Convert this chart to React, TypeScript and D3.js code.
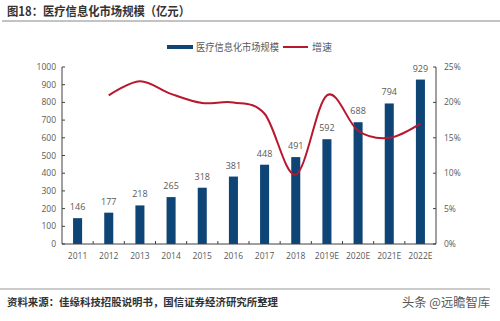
import React from "react";
import * as d3 from "d3";

const categories = ["2011","2012","2013","2014","2015","2016","2017","2018","2019E","2020E","2021E","2022E"];
const marketSize = [146,177,218,265,318,381,448,491,592,688,794,929];
const growth = [null,21.0,23.0,21.2,19.9,20.0,18.4,9.8,21.0,16.0,15.0,17.0];
const leftTicks = [0,100,200,300,400,500,600,700,800,900,1000];
const rightTicks = [0,5,10,15,20,25];

const W = 500, H = 321;
const L = 62, R = 436, T = 67, B = 244;

export default function App() {
  const x = d3.scaleBand().domain(categories).range([L, R]).paddingInner(0.71).paddingOuter(0.355);
  const band = (R - L) / categories.length;
  const yL = d3.scaleLinear().domain([0, 1000]).range([B, T]);
  const yR = d3.scaleLinear().domain([0, 25]).range([B, T]);
  const pts = categories.map((c, i) => ({ c, g: growth[i] })).filter(d => d.g !== null) as {c:string; g:number}[];
  const line = d3.line<{c:string; g:number}>()
    .x(d => (x(d.c) as number) + x.bandwidth() / 2)
    .y(d => yR(d.g))
    .curve(d3.curveCardinal.tension(0));
  const axisColor = "#404040";
  const textColor = "#595959";
  const font = "'Open Sans', 'Noto Sans CJK SC', sans-serif";
  const cjk = "'Noto Sans CJK SC', sans-serif";
  return (
    <svg width={W} height={H} style={{ position: "absolute", left: 0, top: 0, background: "#fff" }} fontFamily={font}>
      <text x={7} y={16} fontSize={12.5} fontWeight="bold" fill="#333" fontFamily={cjk} textLength={183} lengthAdjust="spacingAndGlyphs">图18：医疗信息化市场规模（亿元）</text>
      <line x1={2} x2={500} y1={21} y2={21} stroke="#888" strokeWidth={1.2} />
      {/* legend */}
      <rect x={167} y={45} width={26} height={4} fill="#0f4576" />
      <text x={196} y={51} fontSize={10} fill={textColor} fontFamily={cjk} textLength={83} lengthAdjust="spacingAndGlyphs">医疗信息化市场规模</text>
      <line x1={283} x2={308} y1={47} y2={47} stroke="#b7182e" strokeWidth={2} />
      <text x={312} y={51} fontSize={10} fill={textColor} fontFamily={cjk}>增速</text>
      {/* bars */}
      {categories.map((c, i) => (
        <g key={c}>
          <rect x={x(c)} y={yL(marketSize[i])} width={x.bandwidth()} height={B - yL(marketSize[i])} fill="#0f4576" />
          <text x={(x(c) as number) + x.bandwidth() / 2} y={yL(marketSize[i]) - 8} fontSize={9} fill={textColor} textAnchor="middle">{marketSize[i]}</text>
          <text x={(x(c) as number) + x.bandwidth() / 2} y={259} fontSize={8.5} fill={textColor} textAnchor="middle">{c}</text>
        </g>
      ))}
      <path d={line(pts) || ""} fill="none" stroke="#b7182e" strokeWidth={2} />
      {/* axes */}
      <line x1={L} x2={L} y1={T} y2={B} stroke={axisColor} strokeWidth={1} />
      <line x1={R} x2={R} y1={T} y2={B} stroke={axisColor} strokeWidth={1} />
      <line x1={L} x2={R} y1={B} y2={B} stroke={axisColor} strokeWidth={1} />
      {leftTicks.map(t => (
        <g key={"l" + t}>
          <line x1={L} x2={L + 3} y1={yL(t)} y2={yL(t)} stroke={axisColor} />
          <text x={L - 6} y={yL(t) + 3} fontSize={8.5} fill={textColor} textAnchor="end">{t}</text>
        </g>
      ))}
      {rightTicks.map(t => (
        <g key={"r" + t}>
          <line x1={R - 3} x2={R} y1={yR(t)} y2={yR(t)} stroke={axisColor} />
          <text x={R + 8} y={yR(t) + 3} fontSize={8.5} fill={textColor}>{t + "%"}</text>
        </g>
      ))}
      {categories.map((c, i) => i > 0 ? (
        <line key={"xt" + c} x1={L + band * i} x2={L + band * i} y1={B} y2={B - 3} stroke={axisColor} />
      ) : null)}
      {/* footer */}
      <line x1={0} x2={490} y1={289} y2={289} stroke="#999" strokeWidth={1} />
      <text x={7} y={306} fontSize={10.5} fontWeight="bold" fill="#333" fontFamily={cjk} textLength={271} lengthAdjust="spacingAndGlyphs">资料来源：佳缘科技招股说明书，国信证券经济研究所整理</text>
      <text x={402} y={307} fontSize={12.5} fill="#555" fontFamily={cjk} textLength={88} lengthAdjust="spacingAndGlyphs">头条 @远瞻智库</text>
    </svg>
  );
}
